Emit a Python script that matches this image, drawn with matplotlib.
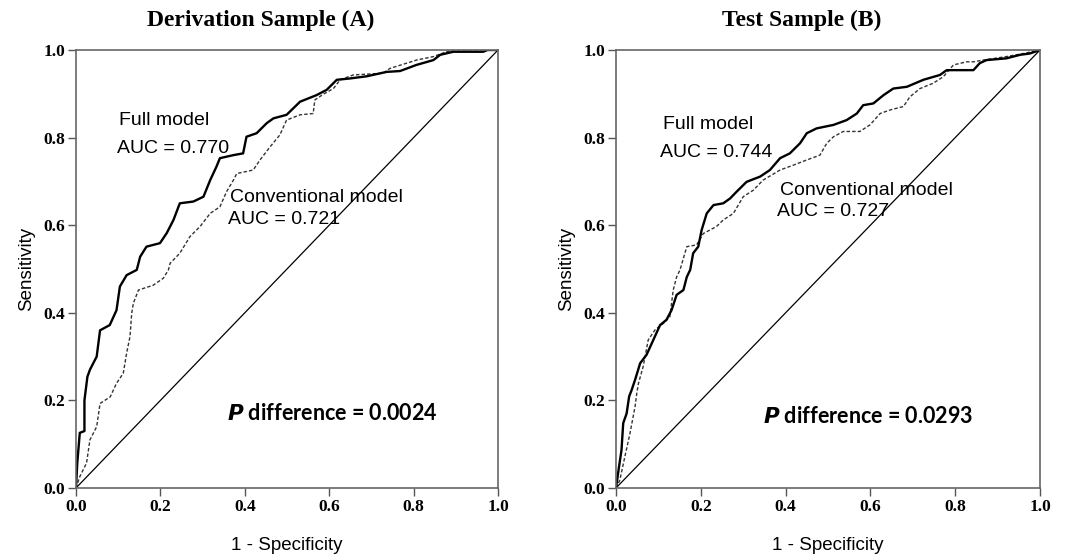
import matplotlib
matplotlib.use("Agg")
import matplotlib.pyplot as plt

# ROC curves
# Derivation sample (A)
a_full_x = [0, 0.003, 0.009, 0.02, 0.02, 0.027, 0.033, 0.049, 0.057, 0.08, 0.096, 0.104, 0.12, 0.144, 0.152,
            0.167, 0.199, 0.215, 0.231, 0.246, 0.278, 0.302, 0.318, 0.333, 0.341, 0.373, 0.396, 0.404, 0.428,
            0.452, 0.468, 0.499, 0.515, 0.531, 0.570, 0.594, 0.618, 0.649, 0.689, 0.736, 0.768, 0.807, 0.847,
            0.863, 0.894, 0.965, 0.975, 1.0]
a_full_y = [0, 0.057, 0.126, 0.13, 0.2, 0.254, 0.27, 0.30, 0.36, 0.372, 0.406, 0.46, 0.486, 0.498, 0.528,
            0.551, 0.559, 0.582, 0.612, 0.65, 0.654, 0.665, 0.703, 0.734, 0.753, 0.760, 0.764, 0.802, 0.81,
            0.833, 0.844, 0.852, 0.867, 0.882, 0.897, 0.909, 0.932, 0.935, 0.94, 0.95, 0.952, 0.966, 0.977,
            0.989, 0.996, 0.996, 1.0, 1.0]
a_conv_x = [0, 0.009, 0.025, 0.033, 0.049, 0.057, 0.081, 0.096, 0.112, 0.12, 0.128, 0.132, 0.136, 0.148,
            0.183, 0.207, 0.219, 0.223, 0.246, 0.270, 0.294, 0.318, 0.341, 0.357, 0.373, 0.381, 0.42, 0.436,
            0.46, 0.483, 0.499, 0.531, 0.562, 0.566, 0.586, 0.61, 0.626, 0.657, 0.728, 0.744, 0.807, 0.847,
            0.878, 0.894, 1.0]
a_conv_y = [0, 0.026, 0.057, 0.11, 0.14, 0.193, 0.208, 0.239, 0.262, 0.308, 0.346, 0.399, 0.422, 0.452,
            0.463, 0.479, 0.498, 0.513, 0.536, 0.574, 0.597, 0.627, 0.642, 0.677, 0.703, 0.718, 0.726, 0.749,
            0.779, 0.806, 0.840, 0.852, 0.855, 0.886, 0.899, 0.912, 0.932, 0.943, 0.947, 0.958, 0.977, 0.985,
            0.996, 1.0, 1.0]

# Test sample (B)
b_full_x = [0, 0.006, 0.013, 0.017, 0.025, 0.031, 0.037, 0.045, 0.057, 0.072, 0.088, 0.104, 0.119, 0.131,
            0.143, 0.159, 0.167, 0.175, 0.182, 0.194, 0.202, 0.214, 0.230, 0.253, 0.269, 0.285, 0.308, 0.340,
            0.363, 0.387, 0.410, 0.434, 0.450, 0.473, 0.513, 0.544, 0.568, 0.583, 0.607, 0.631, 0.654, 0.686,
            0.725, 0.764, 0.780, 0.843, 0.858, 0.874, 0.921, 0.953, 0.976, 1.0]
b_full_y = [0, 0.041, 0.087, 0.148, 0.17, 0.209, 0.224, 0.247, 0.285, 0.304, 0.338, 0.372, 0.384, 0.406,
            0.441, 0.452, 0.482, 0.498, 0.536, 0.551, 0.589, 0.627, 0.646, 0.65, 0.661, 0.677, 0.699, 0.711,
            0.726, 0.753, 0.764, 0.787, 0.810, 0.821, 0.829, 0.840, 0.855, 0.874, 0.878, 0.897, 0.912, 0.916,
            0.932, 0.943, 0.954, 0.954, 0.970, 0.977, 0.981, 0.989, 0.992, 1.0]
b_conv_x = [0, 0.009, 0.021, 0.033, 0.045, 0.049, 0.053, 0.064, 0.076, 0.092, 0.112, 0.127, 0.135, 0.143,
            0.151, 0.167, 0.190, 0.206, 0.237, 0.253, 0.277, 0.300, 0.324, 0.347, 0.387, 0.418, 0.450, 0.481,
            0.497, 0.513, 0.536, 0.575, 0.599, 0.623, 0.646, 0.678, 0.693, 0.717, 0.748, 0.772, 0.796, 0.827,
            0.843, 0.866, 0.921, 0.961, 1.0]
b_conv_y = [0, 0.018, 0.072, 0.125, 0.186, 0.216, 0.239, 0.277, 0.338, 0.361, 0.376, 0.391, 0.452, 0.482,
            0.498, 0.551, 0.555, 0.581, 0.597, 0.612, 0.627, 0.665, 0.680, 0.703, 0.726, 0.737, 0.749, 0.760,
            0.787, 0.802, 0.814, 0.814, 0.829, 0.855, 0.863, 0.871, 0.893, 0.912, 0.924, 0.939, 0.966, 0.973,
            0.973, 0.977, 0.985, 0.992, 1.0]

titles = ["Derivation Sample (A)", "Test Sample (B)"]
full_auc = ["0.770", "0.744"]
conv_auc = ["0.721", "0.727"]
p_diff = ["0.0024", "0.0293"]
ticks = [0.0, 0.2, 0.4, 0.6, 0.8, 1.0]

SANS = "Liberation Sans"
SERIF = "Liberation Serif"
CAL = "Lato"

fig = plt.figure(figsize=(10.77, 5.54), dpi=100)
ax_a = fig.add_axes([76 / 1077, 66 / 554, 422 / 1077, 438 / 554])
ax_b = fig.add_axes([616 / 1077, 66 / 554, 424 / 1077, 438 / 554])

panels = [
    (ax_a, a_full_x, a_full_y, a_conv_x, a_conv_y, (0.102, 0.84), (0.097, 0.776), (0.365, 0.664), (0.36, 0.612), (0.357, 0.171)),
    (ax_b, b_full_x, b_full_y, b_conv_x, b_conv_y, (0.111, 0.829), (0.104, 0.767), (0.387, 0.68), (0.379, 0.631), (0.346, 0.163)),
]
title_x = [261 / 1077, 802 / 1077]

for i, (ax, fx, fy, cx, cy, p1, p2, p3, p4, p5) in enumerate(panels):
    ax.plot([0, 1], [0, 1], color="black", lw=0.9)
    ax.plot(cx, cy, color="#333333", lw=1.0, ls=(0, (2.5, 1.5)))
    ax.plot(fx, fy, color="black", lw=1.7)
    ax.set_xlim(0, 1)
    ax.set_ylim(0, 1)
    ax.set_xticks(ticks)
    ax.set_yticks(ticks)
    ax.set_xticklabels(["%.1f" % t for t in ticks], fontfamily=SERIF, fontweight="bold", fontsize=12.5)
    ax.set_yticklabels(["%.1f" % t for t in ticks], fontfamily=SERIF, fontweight="bold", fontsize=12.5)
    ax.tick_params(direction="out", length=6, width=1, color="#555555", pad=2)
    for s in ax.spines.values():
        s.set_color("#666666")
        s.set_linewidth(1.2)
    ax.set_xlabel("1 - Specificity", fontfamily=SANS, fontsize=13.5, labelpad=16)
    ax.set_ylabel("Sensitivity", fontfamily=SANS, fontsize=13.5, labelpad=6)
    fig.text(title_x[i], 1 - 20 / 554, titles[i], fontfamily=SERIF, fontweight="bold", fontsize=17,
             ha="center", va="center")

    ax.text(p1[0], p1[1], "Full model", fontfamily=SANS, fontsize=14, va="center", ha="left")
    ax.text(p2[0], p2[1], "AUC = " + full_auc[i], fontfamily=SANS, fontsize=14, va="center", ha="left")
    ax.text(p3[0], p3[1], "Conventional model", fontfamily=SANS, fontsize=14, va="center", ha="left")
    ax.text(p4[0], p4[1], "AUC = " + conv_auc[i], fontfamily=SANS, fontsize=14, va="center", ha="left")
    ax.text(p5[0], p5[1], r"$\bfit{P}$ difference = " + p_diff[i], fontfamily=CAL, fontweight="bold",
            fontsize=15.5, va="center", ha="left")

fig.savefig("out.png", dpi=100)
